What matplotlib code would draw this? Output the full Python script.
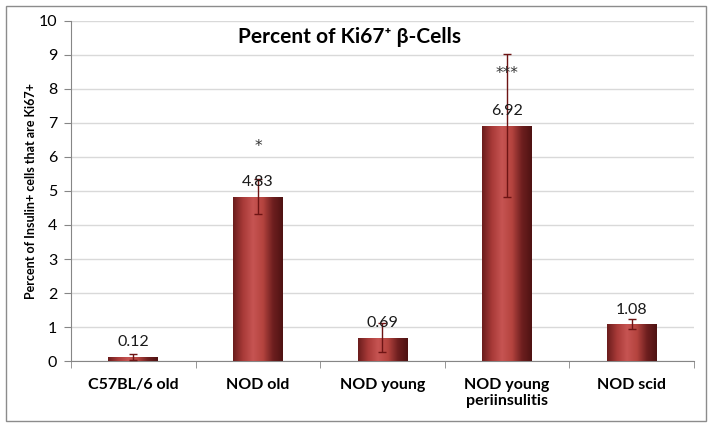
import numpy as np
import matplotlib.pyplot as plt
from matplotlib.colors import LinearSegmentedColormap
from matplotlib.patches import Rectangle

# Datos del grafico
grupos = ['C57BL/6 old', 'NOD old', 'NOD young', 'NOD young\nperiinsulitis', 'NOD scid']
porcentajes = [0.12, 4.83, 0.69, 6.92, 1.08]
errores = [0.08, 0.51, 0.43, 2.1, 0.15]
significancia = ['', '*', '', '***', '']
altura_asteriscos = [0, 6.3, 0, 8.45, 0]

plt.rcParams['font.family'] = ['Lato', 'DejaVu Sans']

fig = plt.figure(figsize=(7.14, 4.28), dpi=100)
ax = fig.add_axes([0.0994, 0.1565, 0.8726, 0.7945])

x = np.arange(len(grupos))
barras = ax.bar(x, porcentajes, width=0.4, color='#b0403e', zorder=2)

# degradado tipo cilindro
cmap = LinearSegmentedColormap.from_list('cil', ['#6a1c1c', '#a83a38', '#c65452', '#b5443f', '#6e1f1f', '#4e1212'])
grad = np.linspace(0, 1, 256).reshape(1, -1)
for b in barras:
    x0, y0 = b.get_x(), b.get_y()
    w, h = b.get_width(), b.get_height()
    im = ax.imshow(grad, cmap=cmap, aspect='auto', extent=(x0, x0 + w, y0, y0 + h), zorder=3)
    im.set_clip_path(b)

ax.errorbar(x, porcentajes, yerr=errores, fmt='none', ecolor='#6e1414', elinewidth=1, capsize=3, capthick=1, zorder=4)

for i, v in enumerate(porcentajes):
    ax.text(x[i], v + 0.43, f'{v:.2f}', ha='center', va='center', fontsize=11.5, color='#1a1a1a', zorder=5)
    if significancia[i]:
        ax.text(x[i], altura_asteriscos[i], significancia[i], ha='center', va='center', fontsize=11,
                color='#333333', family=['DejaVu Sans'], zorder=5)

ax.set_xlim(-0.5, len(grupos) - 0.5)
ax.set_ylim(0, 10)
ax.set_yticks(range(0, 11))
ax.yaxis.grid(True, color='#d9d9d9', linewidth=1, zorder=0)
ax.set_axisbelow(True)
ax.set_xticks(x)
ax.set_xticklabels(grupos, fontweight='bold', fontsize=11.5)
ax.tick_params(axis='x', length=0, pad=12)
ax.set_xticks(np.arange(-0.5, len(grupos), 1), minor=True)
ax.tick_params(axis='x', which='minor', length=5, color='#868686')
ax.tick_params(axis='y', length=5, color='#868686', labelsize=11.5, pad=5)
for lado in ['top', 'right']:
    ax.spines[lado].set_visible(False)
for lado in ['left', 'bottom']:
    ax.spines[lado].set_color('#868686')

ax.set_ylabel('Percent of Insulin+ cells that are Ki67+', fontweight='bold', fontsize=9)
ax.yaxis.set_label_coords(-0.054, 0.5)
fig.text(0.49, 0.913, 'Percent of Ki67⁺ β-Cells', ha='center', va='center', fontsize=15, fontweight='bold')

# marco exterior
fig.patches.append(Rectangle((0.009, 0.016), 0.98, 0.97, transform=fig.transFigure, fill=False, edgecolor='#8c8c8c', linewidth=1))

fig.savefig('out.png', dpi=100)
